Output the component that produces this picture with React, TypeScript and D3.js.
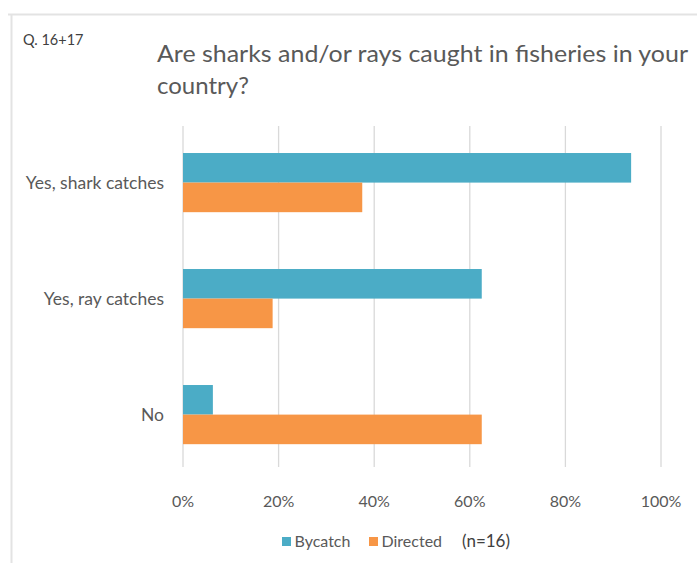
import React from "react";
import * as d3 from "d3";

const categories = ["Yes, shark catches", "Yes, ray catches", "No"];
const seriesNames = ["Bycatch", "Directed"];
const bycatch = [93.75, 62.5, 6.25];
const directed = [37.5, 18.75, 62.5];
const xTicks = [0, 20, 40, 60, 80, 100];
const colors = ["#4BACC6", "#F79646"];

const W = 697;
const H = 563;
const FONT = "Lato, 'Open Sans', sans-serif";

export default function App() {
  const x = d3.scaleLinear().domain([0, 100]).range([183, 661]);
  const y = d3.scaleBand<string>().domain(categories).range([124.6, 472.6]).paddingInner(0.49).paddingOuter(0.245);
  const sub = d3.scaleBand<string>().domain(seriesNames).range([0, y.bandwidth()]);
  const series = [bycatch, directed];

  return (
    <svg width={W} height={H} style={{ position: "absolute", left: 0, top: 0, background: "#fff" }} fontFamily={FONT}>
      <rect x={0} y={0} width={W} height={H} fill="#fff" />
      <line x1={8} x2={W} y1={14.5} y2={14.5} stroke="#e3e3e3" strokeWidth={2} />
      <line x1={11.5} x2={11.5} y1={14} y2={H} stroke="#e3e3e3" strokeWidth={2} />
      <text x={23} y={45} fontSize={14.5} fill="#404040">Q. 16+17</text>
      <text x={157} y={62} fontSize={24} fill="#595959" textLength={531} lengthAdjust="spacingAndGlyphs">Are sharks and/or rays caught in fisheries in your</text>
      <text x={157} y={94} fontSize={24} fill="#595959">country?</text>

      {xTicks.map((t) => (
        <line key={t} x1={x(t)} x2={x(t)} y1={126} y2={467} stroke="#d9d9d9" strokeWidth={1.3} />
      ))}

      {series.map((vals, si) =>
        categories.map((c, ci) => (
          <rect
            key={si + "-" + ci}
            x={x(0)}
            y={(y(c) as number) + (sub(seriesNames[si]) as number)}
            width={x(vals[ci]) - x(0)}
            height={sub.bandwidth()}
            fill={colors[si]}
          />
        ))
      )}

      {categories.map((c) => (
        <text key={c} x={164} y={(y(c) as number) + y.bandwidth() / 2 + 6} fontSize={17.5} fill="#595959" textAnchor="end">
          {c}
        </text>
      ))}

      {xTicks.map((t) => (
        <text key={t} x={x(t)} y={507} fontSize={16} fill="#595959" textAnchor="middle">
          {t + "%"}
        </text>
      ))}

      {seriesNames.map((s, i) => {
        const lx = [282, 369][i];
        return (
          <g key={s}>
            <rect x={lx} y={537} width={9} height={9} fill={colors[i]} />
            <text x={lx + 12.5} y={547} fontSize={16} fill="#595959">{s}</text>
          </g>
        );
      })}
      <text x={462} y={547} fontSize={17} fill="#404040">(n=16)</text>
    </svg>
  );
}
